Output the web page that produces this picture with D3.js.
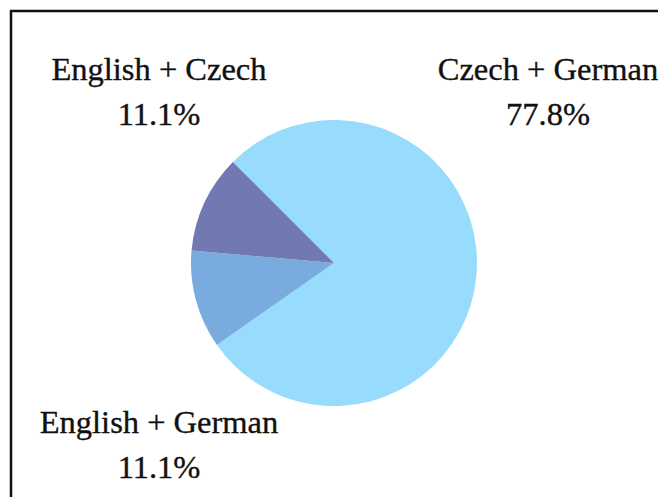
<!DOCTYPE html>
<html>
<head>
<meta charset="utf-8">
<script src="https://cdn.jsdelivr.net/npm/d3@7"></script>
<style>
  body { margin: 0; background: #fff; }
  svg { display: block; }
</style>
</head>
<body>
<div id="chart"></div>
<script>
// data
const categories = ["Czech + German", "English + German", "English + Czech"];
const counts = [7, 1, 1];
const colors = ["#97dcfd", "#7aabdf", "#7278b2"];

const width = 658, height = 497;

const svg = d3.select("div#chart").append("svg")
    .attr("width", width)
    .attr("height", height);

// frame, runs off the right and bottom like the original crop
svg.append("rect")
    .attr("x", 11)
    .attr("y", 11)
    .attr("width", 760)
    .attr("height", 600)
    .attr("fill", "none")
    .attr("stroke", "#111")
    .attr("stroke-width", 2.5);

const cx = 334, cy = 263, radius = 143;

const pie = d3.pie()
    .sort(null)
    .startAngle(-Math.PI / 4)
    .endAngle(-Math.PI / 4 + 2 * Math.PI);

const arc = d3.arc().innerRadius(0).outerRadius(radius);

const color = d3.scaleOrdinal().domain(categories).range(colors);

const g = svg.append("g").attr("transform", "translate(" + cx + "," + cy + ")");

const arcs = pie(counts);

g.selectAll("path.slice")
    .data(arcs)
    .enter()
    .append("path")
    .attr("class", "slice")
    .attr("d", arc)
    .attr("fill", (d, i) => color(categories[i]));

// label anchors (relative to pie centre), one per slice
const labelPos = [[214, -183], [-175, 170], [-175, -183]];

const total = d3.sum(counts);
const fmt = d3.format(".1%");

const labels = g.selectAll("text.label")
    .data(arcs)
    .enter()
    .append("text")
    .attr("class", "label")
    .attr("text-anchor", "middle")
    .style("font-family", "'Liberation Serif', 'Times New Roman', serif")
    .style("font-size", "32.5px")
    .style("fill", "#111")
    .style("stroke", "#111")
    .style("stroke-width", 0.35)
    .attr("transform", (d, i) => "translate(" + labelPos[i][0] + "," + labelPos[i][1] + ")");

labels.append("tspan")
    .attr("x", 0)
    .attr("y", 0)
    .text((d, i) => categories[i]);

labels.append("tspan")
    .attr("x", 0)
    .attr("y", 45)
    .text(d => fmt(d.value / total));
</script>
</body>
</html>
